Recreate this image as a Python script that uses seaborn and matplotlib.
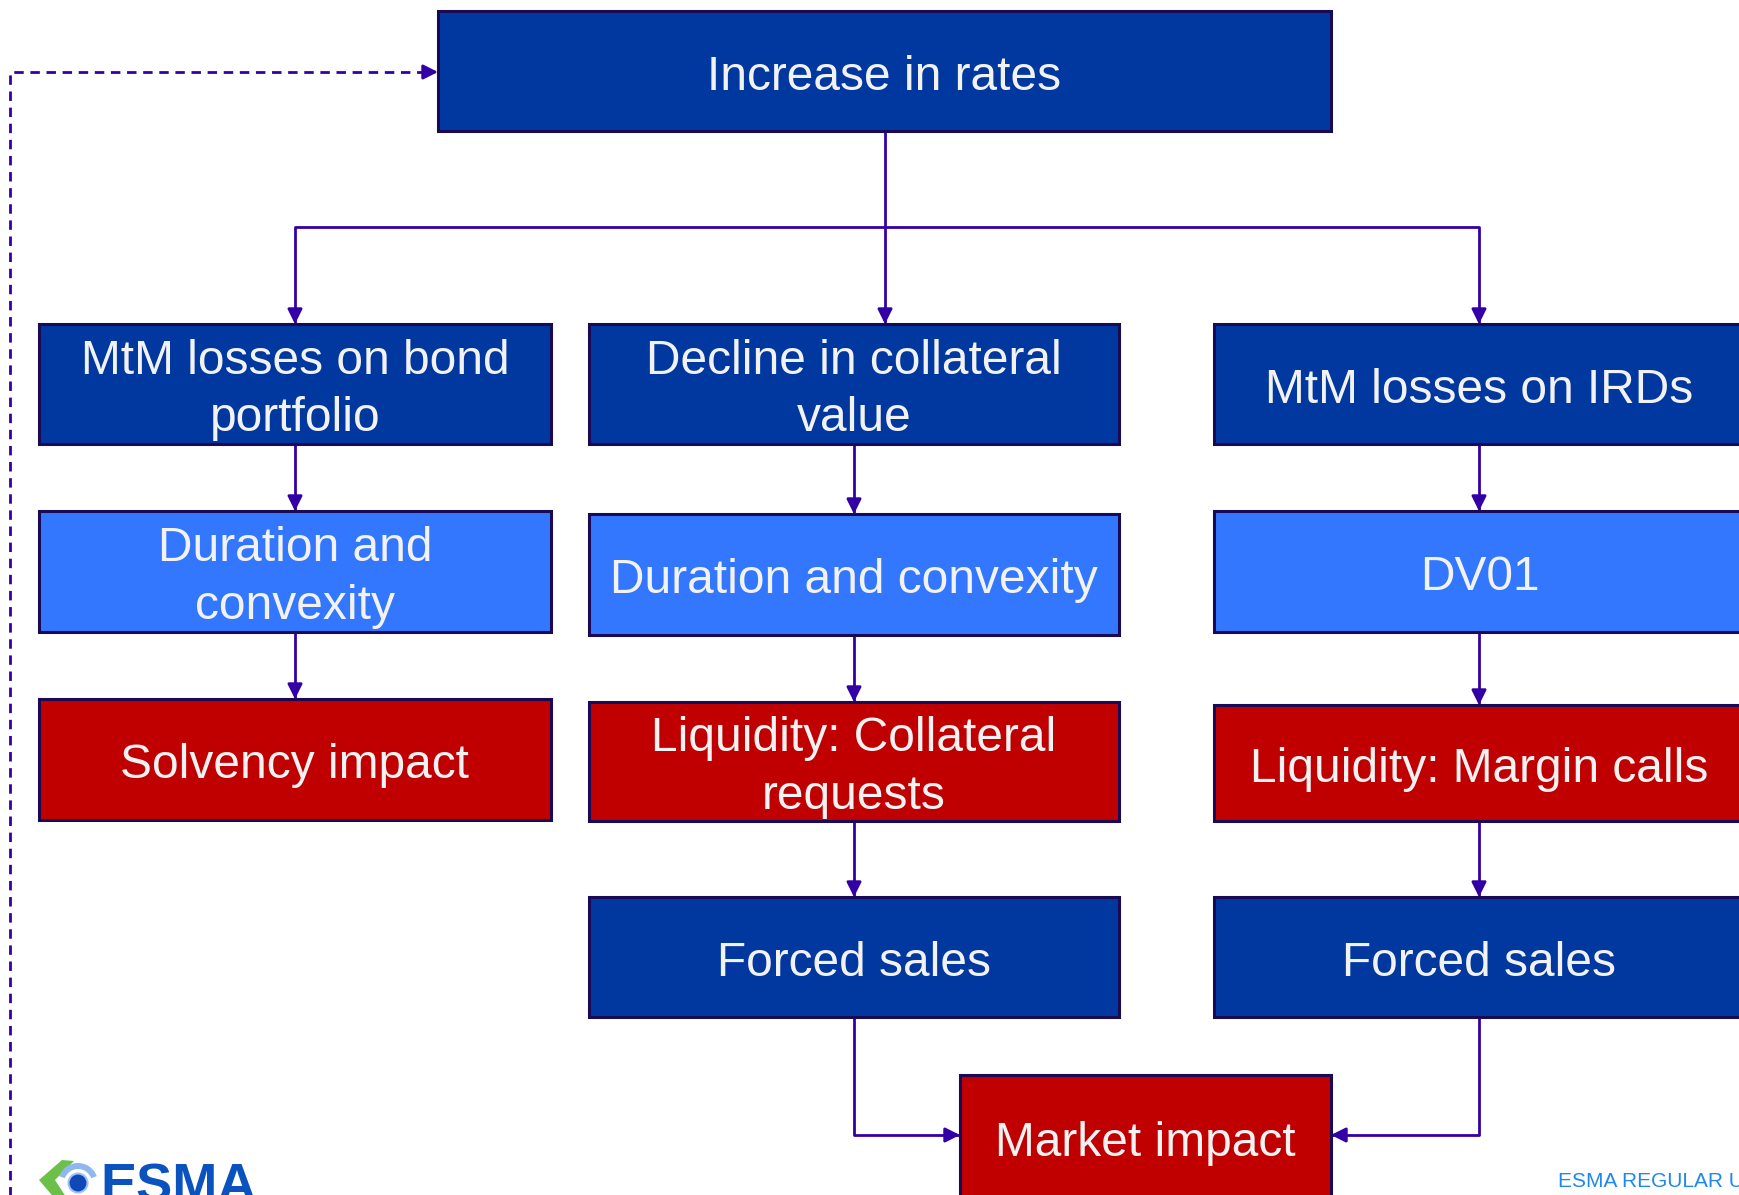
import numpy as np
import matplotlib.pyplot as plt
import matplotlib.patches as mpatches
import seaborn as sns

# Node labels and their colour class
labels = ["Increase in rates",
          "MtM losses on bond\nportfolio", "Decline in collateral\nvalue", "MtM losses on IRDs",
          "Duration and\nconvexity", "Duration and convexity", "DV01",
          "Solvency impact", "Liquidity: Collateral\nrequests", "Liquidity: Margin calls",
          "Forced sales", "Forced sales",
          "Market impact"]
kinds = ["dark",
         "dark", "dark", "dark",
         "light", "light", "light",
         "red", "red", "red",
         "dark", "dark",
         "red"]

# Layout (pixel space of the page): x0, y0, x1, y1
boxes = [(438, 11, 1331, 131),
         (39, 324, 551, 444), (589, 324, 1119, 444), (1214, 324, 1745, 444),
         (39, 511, 551, 632), (589, 514, 1119, 635), (1214, 511, 1745, 632),
         (39, 699, 551, 820), (589, 702, 1119, 821), (1214, 705, 1745, 821),
         (589, 897, 1119, 1017), (1214, 897, 1745, 1017),
         (960, 1075, 1331, 1200)]

# Connectors as polylines, last point gets the arrow head
edges = [[(885, 131), (885, 227), (295, 227), (295, 324)],
         [(885, 227), (885, 324)],
         [(885, 227), (1479, 227), (1479, 324)],
         [(295, 444), (295, 511)], [(854, 444), (854, 514)], [(1479, 444), (1479, 511)],
         [(295, 632), (295, 699)], [(854, 635), (854, 702)], [(1479, 632), (1479, 705)],
         [(854, 821), (854, 897)], [(1479, 821), (1479, 897)],
         [(854, 1017), (854, 1135), (960, 1135)],
         [(1479, 1017), (1479, 1135), (1331, 1135)]]
feedback = [(10, 1200), (10, 72), (438, 72)]

sns.set_theme(style="white")
plt.rcParams['font.family'] = ['Liberation Sans', 'DejaVu Sans']

pal = dict(zip(["dark", "light", "red"],
               sns.color_palette(["#0038A0", "#3377FF", "#C00000"])))
edge_col = "#1A0A55"
line_col = "#3300A6"
text_col = "#F2F2F2"

fig = plt.figure(figsize=(17.39, 11.95), dpi=100)
ax = fig.add_axes([0, 0, 1, 1])
ax.set_xlim(0, 1739)
ax.set_ylim(1195, 0)
ax.axis('off')


def head(p0, p1):
    p0, p1 = np.array(p0, float), np.array(p1, float)
    d = (p1 - p0) / np.linalg.norm(p1 - p0)
    ax.annotate("", xy=p1, xytext=p1 - d * 14,
                arrowprops=dict(arrowstyle="-|>", color=line_col, lw=2,
                                mutation_scale=22, shrinkA=0, shrinkB=0))


for pts in edges:
    xs, ys = zip(*pts)
    ax.plot(xs, ys, color=line_col, lw=2, solid_capstyle='butt')
    head(pts[-2], pts[-1])

xs, ys = zip(*feedback)
ax.plot(xs[:-1] + (feedback[-1][0] - 12,), ys, color=line_col, lw=2,
        linestyle=(0, (3.4, 2.4)))
head(feedback[-2], feedback[-1])

for lab, kind, (x0, y0, x1, y1) in zip(labels, kinds, boxes):
    ax.add_patch(mpatches.Rectangle((x0, y0), x1 - x0, y1 - y0,
                                    facecolor=pal[kind], edgecolor=edge_col,
                                    lw=2.2, zorder=3))
    ax.text((x0 + x1) / 2, (y0 + y1) / 2 + 6, lab, color=text_col,
            fontsize=34.5, ha='center', va='center', linespacing=1.36, zorder=4)

# ESMA logo (bottom-left, cut off by the page edge)
ax.add_patch(mpatches.Polygon([(39, 1180), (62, 1160), (74, 1161), (55, 1180),
                               (68, 1200), (56, 1200)],
                              facecolor="#6CC04A", edgecolor="none", zorder=5))
ax.add_patch(mpatches.Wedge((78, 1183), 20, 200, 340, width=6,
                            facecolor="#8FB8F0", edgecolor="none", zorder=5))
ax.add_patch(mpatches.Circle((78, 1183), 9.5, facecolor="#1048B8",
                             edgecolor="#9DC3F5", lw=1.5, zorder=6))
ax.text(100, 1202, "ESMA", color="#0A52BE", fontsize=39, fontweight='bold',
        ha='left', va='baseline', zorder=5)

ax.text(1558, 1187, "ESMA REGULAR USE", color="#1E88F0", fontsize=15,
        ha='left', va='baseline')

fig.savefig("out.png", dpi=100)
